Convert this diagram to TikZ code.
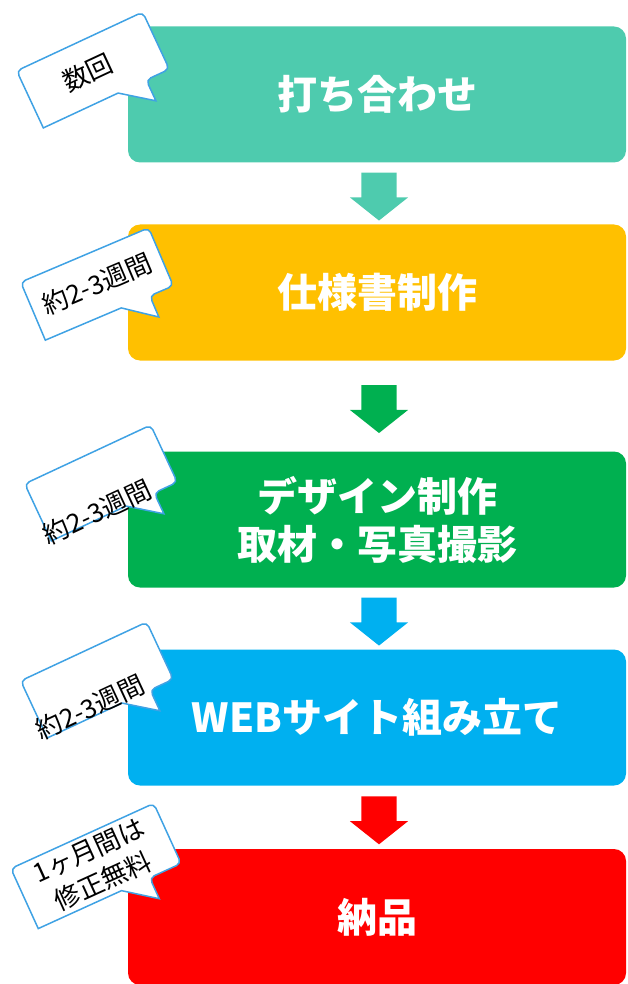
\documentclass[tikz,border=0pt]{standalone}
\usepackage{fontspec}
\setmainfont{Noto Sans CJK JP}
\usetikzlibrary{shapes.arrows,calc}
\definecolor{stepteal}{HTML}{4ECBAE}
\definecolor{stepyellow}{HTML}{FFC000}
\definecolor{stepgreen}{HTML}{00B050}
\definecolor{stepblue}{HTML}{00B0F0}
\definecolor{stepred}{HTML}{FF0000}
\definecolor{bubbleline}{HTML}{3FA2E4}
\begin{document}
\begin{tikzpicture}[x=1pt,y=-1pt,
    stepbox/.style={rounded corners=12pt,minimum width=498pt,minimum height=136pt,inner sep=0pt,
        align=center,text=white,font=\bfseries\fontsize{40}{48}\selectfont},
    flowarrow/.style={single arrow,rotate=-90,minimum height=48pt,inner xsep=0pt,inner ysep=17.5pt,
        single arrow head extend=11.5pt,single arrow tip angle=103},
    bubble/.style={draw=bubbleline,fill=white,line width=1.5pt},
    bubbletext/.style={align=center,inner sep=0pt,font=\fontsize{26}{34}\selectfont}]
    \useasboundingbox (0,0) rectangle (628,984);
    %% steps
    \foreach \n/\y/\c/\t in {1/94.5/stepteal/{打ち合わせ},2/292.5/stepyellow/{仕様書制作},
        3/519.5/stepgreen/{デザイン制作\\取材・写真撮影},4/717.5/stepblue/{WEBサイト組み立て},
        5/917/stepred/{納品}}
        \node[stepbox,fill=\c] (step\n) at (377,\y) {\t};
    %% arrows between steps
    \foreach \a/\b/\c in {1/2/stepteal,2/3/stepgreen,3/4/stepblue,4/5/stepred}
        \node[flowarrow,fill=\c] (arrow\a) at ($(step\a.south)!0.5!(step\b.north)+(2,-4)$) {};
    %% callouts
    \foreach \n/\x/\y/\r/\w/\h/\tx/\ty/\t in {1/93/70/25/69.5/31.5/-6/0/{数回},
        2/97/284/23/69.5/31.5/0/0/{約2-3週間},3/101/483/25/69.5/31.5/-16/25/{約2-3週間},
        4/97/680/25/69.5/31.5/-18/22/{約2-3週間},5/96/866/24.5/78.5/33/0/0/{1ヶ月間は\\修正無料}}
    {
        \begin{scope}[shift={(\x,\y)},rotate=\r]
            \draw[bubble] (-\w,0) [rounded corners=5pt] -- (-\w,-\h) -- (\w,-\h) -- (\w,\h) -- (44,\h)
                [sharp corners] -- (44,\h+23) -- (13,\h) -- (-\w,\h) [rounded corners=5pt] -- cycle;
            \node[bubbletext,rotate=\r] (note\n) at (\tx,\ty) {\t};
        \end{scope}
    }
\end{tikzpicture}
\end{document}
